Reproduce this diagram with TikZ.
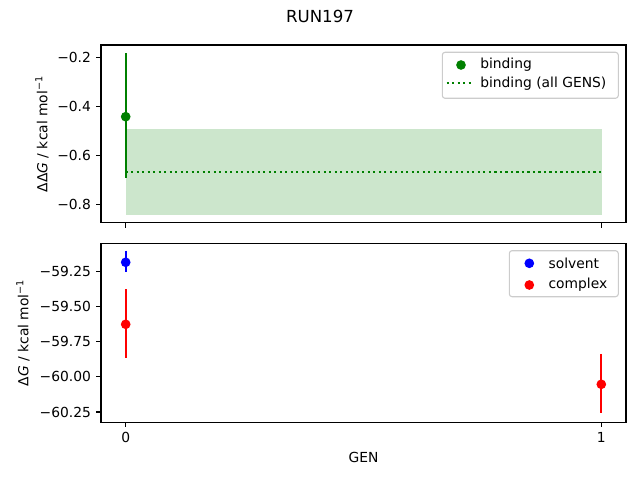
\documentclass[tikz,border=0pt]{standalone}
\usepackage{fontspec}
\setmainfont{DejaVu Sans}
\definecolor{mplgreen}{RGB}{0,128,0}
\definecolor{mplfill}{RGB}{204,230,204}
\definecolor{mplblue}{RGB}{0,0,255}
\definecolor{mplred}{RGB}{255,0,0}
\begin{document}
\begin{tikzpicture}[x=0.01in,y=-0.01in,
  spine/.style={line width=0.8pt,black},
  tickmark/.style={line width=0.8pt,black},
  ticklab/.style={font=\fontsize{10}{12}\selectfont,inner sep=0pt},
  errbar/.style={line width=1.5pt},
  dotmark/.style={circle,inner sep=0pt,minimum size=7pt},
  dotline/.style={mplgreen,line width=1.5pt,dash pattern=on 1.5pt off 2.475pt},
  legbox/.style={draw=black!20,line width=0.8pt,rounded corners=2pt,fill=white,fill opacity=0.8},
  legtext/.style={font=\fontsize{10}{12}\selectfont,anchor=west,inner sep=0pt}]
\useasboundingbox (0,0) rectangle (640,480);
% title
\node[font=\fontsize{12}{14}\selectfont] (title) at (320,16) {RUN197};
% ---------- top axes ----------
\fill[mplfill] (125.7,129) rectangle (601.5,215);
\draw[dotline] (125.7,172) -- (601.5,172);
\draw[errbar,mplgreen] (125.7,53.3) -- (125.7,178.3);
\node[dotmark,fill=mplgreen] (pbind) at (125.7,116.7) {};
\draw[spine] (101,45) rectangle (626,222.7);
\foreach \yy/\lab in {57.7/{−0.2},106.7/{−0.4},155.7/{−0.6},204.3/{−0.8}}{
  \draw[tickmark] (101,\yy) -- ++(-4.9,0);
  \node[ticklab,anchor=east] at (91.2,\yy) {\lab};
}
\foreach \xx in {125.7,601.3}{\draw[tickmark] (\xx,222.7) -- ++(0,4.9);}
\node[font=\fontsize{10}{12}\selectfont,rotate=90] (ylab1) at (42,134) {ΔΔ\textit{G} / kcal mol\textsuperscript{−1}};
% legend top
\draw[legbox] (442.3,52.3) rectangle (618.3,98.3);
\node[dotmark,fill=mplgreen] (lg1) at (461,65) {};
\node[legtext] (lt1) at (480,65) {binding};
\coordinate (ld1) at (446.7,83.3);
\coordinate (ld2) at (471,83.3);
\draw[dotline] (ld1) -- (ld2);
\node[legtext] (lt2) at (480,83.3) {binding (all GENS)};
% ---------- bottom axes ----------
\draw[errbar,mplblue] (125.7,250.7) -- (125.7,271.7);
\node[dotmark,fill=mplblue] (psol) at (125.7,262.3) {};
\draw[errbar,mplred] (125.7,289.3) -- (125.7,357.7);
\node[dotmark,fill=mplred] (pc0) at (125.7,324.3) {};
\draw[errbar,mplred] (601.3,354) -- (601.3,413.3);
\node[dotmark,fill=mplred] (pc1) at (601.3,384.3) {};
\draw[spine] (101,243.3) rectangle (626,422.2);
\foreach \yy/\lab in {271.7/{−59.25},306.7/{−59.50},341.7/{−59.75},376.7/{−60.00},412/{−60.25}}{
  \draw[tickmark] (101,\yy) -- ++(-4.9,0);
  \node[ticklab,anchor=east] at (91.2,\yy) {\lab};
}
\foreach \xx/\lab in {125.7/0,601.3/1}{
  \draw[tickmark] (\xx,422.2) -- ++(0,4.9);
  \node[ticklab,anchor=north] at (\xx,431.9) {\lab};
}
\node[font=\fontsize{10}{12}\selectfont,rotate=90] (ylab2) at (23,332.7) {Δ\textit{G} / kcal mol\textsuperscript{−1}};
\node[font=\fontsize{10}{12}\selectfont] (xlab) at (363.5,457) {GEN};
% legend bottom
\draw[legbox] (509.3,250.7) rectangle (618.3,296.7);
\node[dotmark,fill=mplblue] (lg2) at (529.3,263.3) {};
\node[legtext] (lt3) at (548.3,263.3) {solvent};
\node[dotmark,fill=mplred] (lg3) at (529.3,285) {};
\node[legtext] (lt4) at (548.3,285) {complex};
\end{tikzpicture}
\end{document}
